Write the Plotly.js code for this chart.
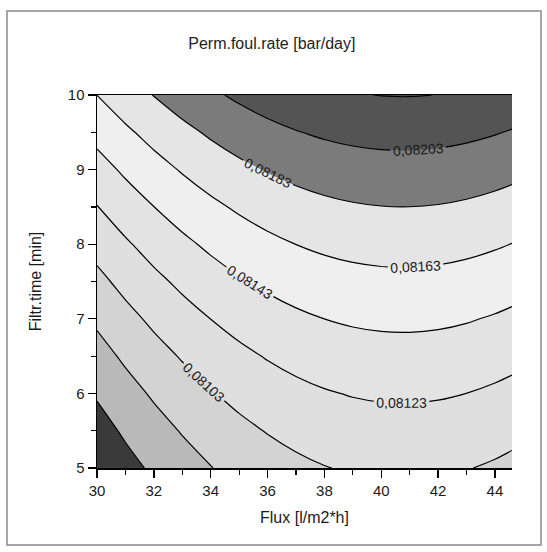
<!DOCTYPE html>
<html>
<head>
<meta charset="utf-8">
<script src="https://cdn.plot.ly/plotly-3.0.1.min.js"></script>
<style>html,body{margin:0;padding:0;background:#fff;}#chart{width:547px;height:552px;}</style>
</head>
<body>
<div id="chart"></div>
<script>
// Flux [l/m2*h]
var fluxValues = [30, 31, 32, 33, 34, 35, 36, 37, 38, 39, 40, 41, 42, 43, 44, 44.6];
// Filtr. time [min]
var timeValues = [5, 5.5, 6, 6.5, 7, 7.5, 8, 8.5, 9, 9.5, 10];
// Perm. foul. rate [bar/day], rows follow timeValues, columns follow fluxValues
var rateY5   = [0.0804578,0.0805652,0.0806622,0.0807486,0.0808246,0.0808902,0.0809452,0.0809898,0.0810238,0.0810474,0.0810604,0.0810630,0.0810552,0.0810368,0.0810080,0.0809858];
var rateY5_5 = [0.0805516,0.0806590,0.0807560,0.0808424,0.0809184,0.0809840,0.0810390,0.0810836,0.0811176,0.0811412,0.0811542,0.0811568,0.0811490,0.0811306,0.0811018,0.0810796];
var rateY6   = [0.0806506,0.0807580,0.0808550,0.0809414,0.0810174,0.0810830,0.0811380,0.0811826,0.0812166,0.0812402,0.0812532,0.0812558,0.0812480,0.0812296,0.0812008,0.0811786];
var rateY6_5 = [0.0807550,0.0808624,0.0809594,0.0810458,0.0811218,0.0811874,0.0812424,0.0812870,0.0813210,0.0813446,0.0813576,0.0813602,0.0813524,0.0813340,0.0813052,0.0812830];
var rateY7   = [0.0808644,0.0809718,0.0810688,0.0811552,0.0812312,0.0812968,0.0813518,0.0813964,0.0814304,0.0814540,0.0814670,0.0814696,0.0814618,0.0814434,0.0814146,0.0813924];
var rateY7_5 = [0.0809792,0.0810866,0.0811836,0.0812700,0.0813460,0.0814116,0.0814666,0.0815112,0.0815452,0.0815688,0.0815818,0.0815844,0.0815766,0.0815582,0.0815294,0.0815072];
var rateY8   = [0.0810990,0.0812064,0.0813034,0.0813898,0.0814658,0.0815314,0.0815864,0.0816310,0.0816650,0.0816886,0.0817016,0.0817042,0.0816964,0.0816780,0.0816492,0.0816270];
var rateY8_5 = [0.0812242,0.0813316,0.0814286,0.0815150,0.0815910,0.0816566,0.0817116,0.0817562,0.0817902,0.0818138,0.0818268,0.0818294,0.0818216,0.0818032,0.0817744,0.0817522];
var rateY9   = [0.0813546,0.0814620,0.0815590,0.0816454,0.0817214,0.0817870,0.0818420,0.0818866,0.0819206,0.0819442,0.0819572,0.0819598,0.0819520,0.0819336,0.0819048,0.0818826];
var rateY9_5 = [0.0814902,0.0815976,0.0816946,0.0817810,0.0818570,0.0819226,0.0819776,0.0820222,0.0820562,0.0820798,0.0820928,0.0820954,0.0820876,0.0820692,0.0820404,0.0820182];
var rateY10  = [0.0816310,0.0817384,0.0818354,0.0819218,0.0819978,0.0820634,0.0821184,0.0821630,0.0821970,0.0822206,0.0822336,0.0822362,0.0822284,0.0822100,0.0821812,0.0821590];
var rateGrid = [rateY5, rateY5_5, rateY6, rateY6_5, rateY7, rateY7_5, rateY8, rateY8_5, rateY9, rateY9_5, rateY10];

// contour levels
var levelStart = 0.08063, levelEnd = 0.08223, levelStep = 0.0002;
// band greys, from lowest band to highest
var bandGreys = ['#3a3a3a','#b9b9b9','#d3d3d3','#dfdfdf','#e3e3e3','#efefef','#e5e5e5','#7b7b7b','#545454','#4c4c4c'];

var xTickVals = [30, 32, 34, 36, 38, 40, 42, 44];
var yTickVals = [5, 6, 7, 8, 9, 10];

var colorscale = bandGreys.map(function(c, i){ return [i/(bandGreys.length-1), c]; });
var narrow = '"Liberation Sans Narrow", "Liberation Sans", Arial, sans-serif';

var trace = {
  type: 'contour',
  x: fluxValues,
  y: timeValues,
  z: rateGrid,
  autocontour: false,
  contours: {
    start: levelStart, end: levelEnd, size: levelStep,
    coloring: 'fill',
    showlabels: true,
    labelformat: '.5f',
    labelfont: {family: narrow, size: 14, color: '#1a1a1a'}
  },
  colorscale: colorscale,
  showscale: false,
  line: {color: '#000', width: 1.2, smoothing: 1},
  hoverinfo: 'skip'
};

var layout = {
  width: 547, height: 552,
  margin: {l: 97, r: 35, t: 95, b: 84},
  paper_bgcolor: '#fff', plot_bgcolor: '#fff',
  separators: ',.',
  font: {family: narrow, color: '#1a1a1a', size: 14},
  title: {text: 'Perm.foul.rate [bar/day]', x: 0.497, xref: 'container', y: 0.922, yref: 'container', yanchor: 'middle', xanchor: 'center',
          font: {family: narrow, size: 16, color: '#222'}},
  xaxis: {
    range: [30, 44.6], tickvals: xTickVals, ticks: 'outside', ticklen: 8, tickwidth: 1.3, tickcolor: '#000',
    showline: true, linecolor: '#000', linewidth: 1.5, mirror: true, showgrid: false, zeroline: false,
    minor: {dtick: 1, tick0: 30, ticks: 'outside', ticklen: 5, tickwidth: 1.2, tickcolor: '#000', showgrid: false},
    tickfont: {family: narrow, size: 15, color: '#1a1a1a'},
    title: {text: 'Flux [l/m2*h]', standoff: 14, font: {family: narrow, size: 16, color: '#1a1a1a'}}
  },
  yaxis: {
    range: [5, 10], tickvals: yTickVals, ticks: 'outside', ticklen: 8, tickwidth: 1.3, tickcolor: '#000',
    showline: true, linecolor: '#000', linewidth: 1.5, showgrid: false, zeroline: false,
    minor: {dtick: 0.5, tick0: 5, ticks: 'outside', ticklen: 5, tickwidth: 1.2, tickcolor: '#000', showgrid: false},
    tickfont: {family: narrow, size: 15, color: '#1a1a1a'},
    title: {text: 'Filtr.time [min]', standoff: 22, font: {family: narrow, size: 16, color: '#1a1a1a'}}
  },
  shapes: [{type: 'rect', xref: 'paper', yref: 'paper', x0: -0.2169, x1: 1.0699, y0: -0.2064, y1: 1.2252,
            line: {color: '#8a8a8a', width: 1.5}, fillcolor: 'rgba(0,0,0,0)', layer: 'below'}]
};

Plotly.newPlot('chart', [trace], layout, {displayModeBar: false, staticPlot: true});
</script>
</body>
</html>
